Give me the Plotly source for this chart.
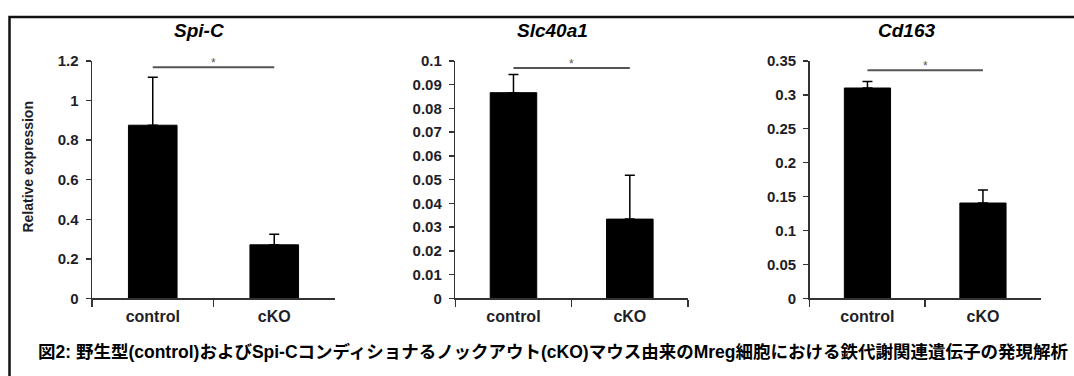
import plotly.graph_objects as go

# ---------------- data ----------------
categories = ["control", "cKO"]
genes = ["Spi-C", "Slc40a1", "Cd163"]

spic_values = [0.875, 0.271]
spic_errors = [0.242, 0.053]
slc40a1_values = [0.0866, 0.0334]
slc40a1_errors = [0.0077, 0.0185]
cd163_values = [0.310, 0.1406]
cd163_errors = [0.0095, 0.019]

sig_levels = [1.168, 0.097, 0.336]
sig_marks = ["*", "*", "*"]

y_maxes = [1.2, 0.1, 0.35]
spic_ticks = [0, 0.2, 0.4, 0.6, 0.8, 1.0, 1.2]
spic_ticklabels = ["0", "0.2", "0.4", "0.6", "0.8", "1", "1.2"]
slc40a1_ticks = [0, 0.01, 0.02, 0.03, 0.04, 0.05, 0.06, 0.07, 0.08, 0.09, 0.1]
slc40a1_ticklabels = ["0", "0.01", "0.02", "0.03", "0.04", "0.05", "0.06", "0.07", "0.08", "0.09", "0.1"]
cd163_ticks = [0, 0.05, 0.1, 0.15, 0.2, 0.25, 0.3, 0.35]
cd163_ticklabels = ["0", "0.05", "0.1", "0.15", "0.2", "0.25", "0.3", "0.35"]

y_title = "Relative expression"
caption = "図2: 野生型(control)およびSpi-Cコンディショナるノックアウト(cKO)マウス由来のMreg細胞における鉄代謝関連遺伝子の発現解析"

values = [spic_values, slc40a1_values, cd163_values]
errors = [spic_errors, slc40a1_errors, cd163_errors]
ticks = [spic_ticks, slc40a1_ticks, cd163_ticks]
ticklabels = [spic_ticklabels, slc40a1_ticklabels, cd163_ticklabels]

# ---------------- layout helpers ----------------
W, H = 1074, 376


def fx(px):
    return px / W


def fy(py):
    return 1 - py / H


x_domains = [(92, 335), (455.3, 688), (809.7, 1040.7)]
y_domain = [fy(303.2), fy(54.3)]
title_x = [199, 552.7, 906.7]

AXIS_COLOR = "#333333"
TEXT_COLOR = "#1e1e28"
FONT = "Liberation Sans, Arial, sans-serif"

fig = go.Figure()
layout = dict(
    width=W, height=H, autosize=False,
    margin=dict(l=0, r=0, t=0, b=0),
    paper_bgcolor="white", plot_bgcolor="white",
    showlegend=False, hovermode=False,
)

annotations = []
shapes = []

for i in range(3):
    xa = "x" if i == 0 else f"x{i+1}"
    ya = "y" if i == 0 else f"y{i+1}"
    fig.add_trace(go.Bar(
        x=categories, y=values[i],
        xaxis=xa, yaxis=ya,
        width=0.4,
        marker=dict(color="black", line=dict(color="black", width=1)),
        error_y=dict(type="data", array=errors[i], symmetric=False,
                     arrayminus=[0, 0], color="black", thickness=1.5, width=5),
    ))
    xkey = "xaxis" if i == 0 else f"xaxis{i+1}"
    ykey = "yaxis" if i == 0 else f"yaxis{i+1}"
    layout[xkey] = dict(
        domain=[fx(x_domains[i][0]), fx(x_domains[i][1])],
        anchor=ya, type="category", range=[-0.5, 1.5],
        showline=True, linecolor=AXIS_COLOR, linewidth=1.5,
        ticks="outside", tickson="boundaries", ticklen=7, tickwidth=1.5,
        tickcolor=AXIS_COLOR, showgrid=False, zeroline=False,
        tickvals=categories, ticktext=[f"<b>{c}</b>" for c in categories],
        tickfont=dict(family=FONT, size=16, color=TEXT_COLOR),
        ticklabelstandoff=3, fixedrange=True,
    )
    layout[ykey] = dict(
        domain=y_domain, anchor=xa, range=[0, y_maxes[i]],
        showline=True, linecolor=AXIS_COLOR, linewidth=1.5,
        ticks="outside", ticklen=5, tickwidth=1.5, tickcolor=AXIS_COLOR,
        tickvals=ticks[i], ticktext=[f"<b>{t}</b>" for t in ticklabels[i]],
        showgrid=False, zeroline=False,
        tickfont=dict(family=FONT, size=15, color=TEXT_COLOR),
        ticklabelstandoff=4, fixedrange=True,
    )
    # significance bar
    shapes.append(dict(type="line", xref=xa, yref=ya,
                       x0=categories[0], x1=categories[1],
                       y0=sig_levels[i], y1=sig_levels[i],
                       line=dict(color="#555555", width=2)))
    annotations.append(dict(xref=xa, yref=ya, x=0.5, y=sig_levels[i],
                            text=sig_marks[i], showarrow=False,
                            yanchor="bottom", yshift=-5,
                            font=dict(family=FONT, size=12, color="#555555")))
    # panel title
    annotations.append(dict(xref="paper", yref="paper", x=fx(title_x[i]), y=fy(23),
                            xanchor="center", yanchor="middle",
                            text=f"<b><i>{genes[i]}</i></b>", showarrow=False,
                            font=dict(family=FONT, size=19, color="black")))

annotations.append(dict(xref="paper", yref="paper", x=fx(28), y=fy(165),
                        xanchor="center", yanchor="middle", textangle=-90,
                        text=f"<b>{y_title}</b>", showarrow=False,
                        font=dict(family=FONT, size=14, color=TEXT_COLOR)))

annotations.append(dict(xref="paper", yref="paper", x=fx(36), y=fy(359),
                        xanchor="left", yanchor="middle",
                        text=f"<b>{caption}</b>", showarrow=False,
                        font=dict(family="Liberation Sans, Noto Sans CJK JP, sans-serif",
                                  size=17.5, color="black")))

# outer frame
shapes.append(dict(type="rect", xref="paper", yref="paper",
                   x0=fx(9.5), x1=fx(1090), y0=fy(8.3), y1=fy(400),
                   line=dict(color="#111111", width=2.5)))

layout["annotations"] = annotations
layout["shapes"] = shapes
fig.update_layout(**layout)

fig.write_html("out.html",
               config={"displayModeBar": False, "staticPlot": True},
               post_script="document.body.style.margin='0';document.body.style.overflow='hidden';")
